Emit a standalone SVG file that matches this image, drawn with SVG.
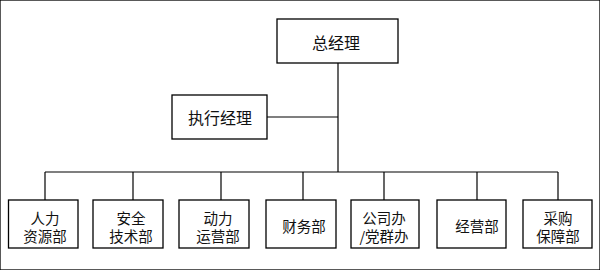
<svg xmlns="http://www.w3.org/2000/svg" width="600" height="270" viewBox="0 0 600 270">
<style>
rect{fill:#fff;stroke:#000;stroke-width:1.3}
line{stroke:#000;stroke-width:1.2}
text{font-family:"Noto Sans CJK SC","Noto Sans CJK JP",sans-serif;fill:#111;text-anchor:middle;dominant-baseline:central}
.t{font-size:16px}
.b{font-size:14.5px}
</style>
<rect width="600" height="270" fill="#fff" stroke="none"/>
<g id="connectors">
<line x1="338" y1="63" x2="338" y2="172"/>
<line x1="267" y1="117" x2="338" y2="117"/>
<line x1="45" y1="172" x2="558" y2="172"/>
<line x1="45" y1="172" x2="45" y2="200"/>
<line x1="133" y1="172" x2="133" y2="200"/>
<line x1="221" y1="172" x2="221" y2="200"/>
<line x1="303" y1="172" x2="303" y2="200"/>
<line x1="384" y1="172" x2="384" y2="200"/>
<line x1="477" y1="172" x2="477" y2="200"/>
<line x1="558" y1="172" x2="558" y2="200"/>
</g>
<g id="gm"><rect x="277" y="19" width="121" height="44"/><text class="t" x="336" y="42">总经理</text></g>
<g id="exec"><rect x="172" y="95" width="95" height="44"/><text class="t" x="220" y="117">执行经理</text></g>
<g id="hr"><rect x="8.5" y="200" width="69.5" height="48"/><text class="b" x="45" y="217">人力</text><text class="b" x="45" y="235">资源部</text></g>
<g id="safety"><rect x="93" y="200" width="70" height="48"/><text class="b" x="131" y="217">安全</text><text class="b" x="131" y="235">技术部</text></g>
<g id="power"><rect x="179" y="200" width="70" height="48"/><text class="b" x="218" y="217">动力</text><text class="b" x="218" y="235">运营部</text></g>
<g id="finance"><rect x="266" y="200" width="70" height="48"/><text class="b" x="304" y="225">财务部</text></g>
<g id="office"><rect x="351" y="200" width="68" height="48"/><text class="b" x="384" y="217">公司办</text><text class="b" x="384" y="235">/党群办</text></g>
<g id="business"><rect x="437" y="200" width="69" height="48"/><text class="b" x="477" y="225">经营部</text></g>
<g id="purchase"><rect x="523" y="200" width="69" height="48"/><text class="b" x="558" y="217">采购</text><text class="b" x="558" y="235">保障部</text></g>
</svg>
